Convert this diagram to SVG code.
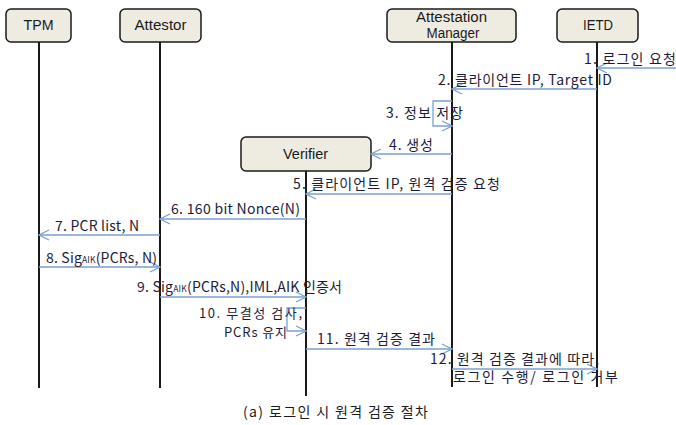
<svg xmlns="http://www.w3.org/2000/svg" width="676" height="425" viewBox="0 0 676 425">
<defs>
<marker id="ah" markerWidth="12" markerHeight="12" refX="11" refY="6" orient="auto" markerUnits="userSpaceOnUse">
<path d="M1,1 L11,6 L1,11" fill="none" stroke="#7b9fd3" stroke-width="1.2"/>
</marker>
</defs>
<style>
.box{fill:#eeece1;stroke:#1a1a1a;stroke-width:1.5}
.life{stroke:#1a1a1a;stroke-width:2;fill:none}
.msg{stroke:#7b9fd3;stroke-width:1.3;fill:none;marker-end:url(#ah)}
.lbl{font-family:"Noto Sans CJK KR","Liberation Sans",sans-serif;font-size:14px;fill:#1c1c38}
.sm{font-size:13px}
.nm{font-family:"Liberation Sans","Noto Sans CJK KR",sans-serif;font-size:14px;fill:#1a1a1a;text-anchor:middle}
.sub{font-size:8.5px}
</style>
<rect width="676" height="425" fill="#ffffff"/>
<g id="tpm">
<line class="life" x1="39" y1="42" x2="39" y2="388"/>
<rect class="box" x="6" y="9" width="65" height="33" rx="5"/>
<text class="nm" x="38.5" y="30" textLength="30" lengthAdjust="spacingAndGlyphs">TPM</text>
</g>
<g id="attestor">
<line class="life" x1="160" y1="42" x2="160" y2="388"/>
<rect class="box" x="120" y="9" width="81" height="33" rx="5"/>
<text class="nm" x="160.5" y="30" textLength="52" lengthAdjust="spacingAndGlyphs">Attestor</text>
</g>
<g id="manager">
<line class="life" x1="452" y1="42" x2="452" y2="387"/>
<rect class="box" x="387" y="9" width="129" height="33" rx="5"/>
<text class="nm" x="451.5" y="22" textLength="71" lengthAdjust="spacingAndGlyphs">Attestation</text>
<text class="nm" x="453" y="38" textLength="53" lengthAdjust="spacingAndGlyphs">Manager</text>
</g>
<g id="ietd">
<line class="life" x1="597" y1="42" x2="597" y2="387"/>
<rect class="box" x="557" y="9" width="81" height="33" rx="5"/>
<text class="nm" x="598" y="30" textLength="30" lengthAdjust="spacingAndGlyphs">IETD</text>
</g>
<g id="verifier">
<line class="life" x1="306" y1="171" x2="306" y2="396"/>
<rect class="box" x="241" y="137" width="130" height="34" rx="5"/>
<text class="nm" x="305.5" y="159" textLength="45" lengthAdjust="spacingAndGlyphs">Verifier</text>
</g>
<g id="connectors">
<line class="msg" x1="676" y1="68" x2="597" y2="68"/>
<line class="msg" x1="597" y1="89" x2="452" y2="89"/>
<path class="msg" d="M452,101 H433 V126 H452"/>
<line class="msg" x1="452" y1="154" x2="371" y2="154"/>
<line class="msg" x1="452" y1="194" x2="306" y2="194"/>
<line class="msg" x1="306" y1="219" x2="160" y2="219"/>
<line class="msg" x1="160" y1="235" x2="39" y2="235"/>
<line class="msg" x1="39" y1="267" x2="160" y2="267"/>
<line class="msg" x1="160" y1="297" x2="306" y2="297"/>
<path class="msg" d="M306,308 H287 V331 H306"/>
<line class="msg" x1="306" y1="349" x2="452" y2="349"/>
<line class="msg" x1="452" y1="369" x2="597" y2="369"/>
</g>
<g id="labels">
<text class="lbl" x="584" y="64" textLength="92" lengthAdjust="spacing">1. 로그인 요청</text>
<text class="lbl" x="438" y="85" textLength="174" lengthAdjust="spacing">2. 클라이언트 IP, Target ID</text>
<text class="lbl" x="386" y="118" textLength="77" lengthAdjust="spacing">3. 정보 저장</text>
<text class="lbl" x="389" y="150" textLength="44" lengthAdjust="spacing">4. 생성</text>
<text class="lbl" x="293" y="189" textLength="207" lengthAdjust="spacing">5. 클라이언트 IP, 원격 검증 요청</text>
<text class="lbl" x="171" y="214" textLength="129" lengthAdjust="spacing">6. 160 bit Nonce(N)</text>
<text class="lbl" x="55" y="231" textLength="84" lengthAdjust="spacing">7. PCR list,  N</text>
<text class="lbl" x="46" y="263" textLength="111" lengthAdjust="spacing">8. Sig<tspan class="sub">AIK</tspan>(PCRs,  N)</text>
<text class="lbl" x="137" y="292" textLength="205" lengthAdjust="spacing">9. Sig<tspan class="sub">AIK</tspan>(PCRs,N),IML,AIK 인증서</text>
<text class="lbl sm" x="199" y="318" textLength="103" lengthAdjust="spacing">10. 무결성 검사,</text>
<text class="lbl sm" x="224" y="337" textLength="63" lengthAdjust="spacing">PCRs 유지</text>
<text class="lbl" x="317" y="344" textLength="118" lengthAdjust="spacing">11. 원격 검증 결과</text>
<text class="lbl" x="430" y="364" textLength="169" lengthAdjust="spacing">12. 원격 검증 결과에 따라,</text>
<text class="lbl" x="453" y="382" textLength="165" lengthAdjust="spacing">로그인 수행/ 로그인 거부</text>
<text class="lbl" x="243" y="417" textLength="185" lengthAdjust="spacing" style="fill:#1a1a1a">(a) 로그인 시 원격 검증 절차</text>
</g>
</svg>
